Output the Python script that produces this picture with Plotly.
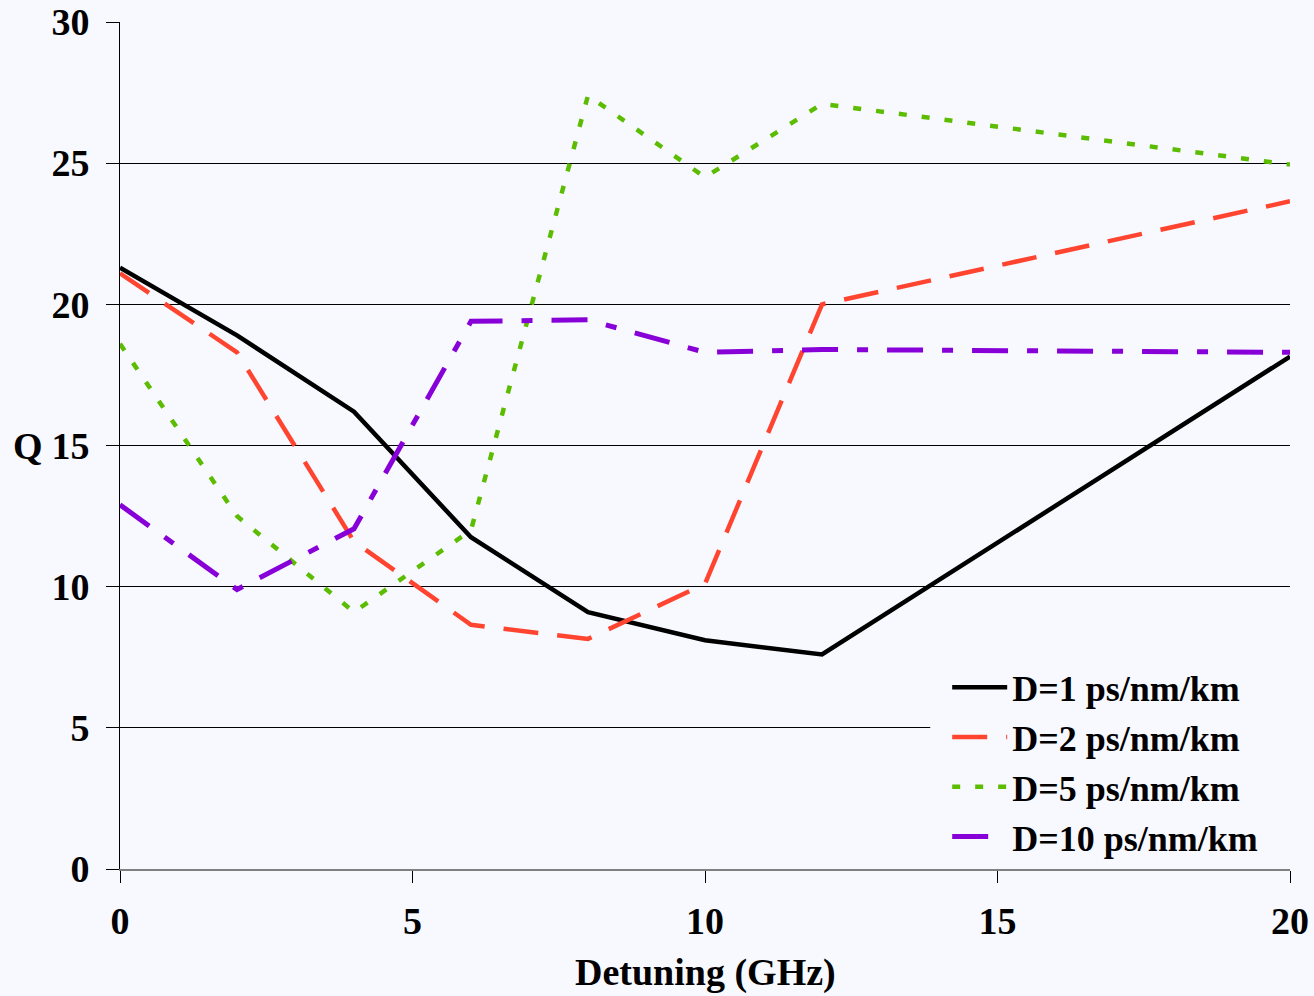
import plotly.graph_objects as go

detuning = [0, 2, 4, 6, 8, 10, 12, 20]
q_d1 = [21.3, 18.9, 16.2, 11.75, 9.1, 8.1, 7.6, 18.15]
q_d2 = [21.1, 18.3, 11.6, 8.65, 8.15, 10.1, 20.0, 23.65]
q_d5 = [18.6, 12.5, 9.1, 12.0, 27.4, 24.5, 27.1, 24.95]
q_d10 = [12.9, 9.9, 12.05, 19.4, 19.45, 18.3, 18.4, 18.3]
names = ["D=1 ps/nm/km", "D=2 ps/nm/km", "D=5 ps/nm/km", "D=10 ps/nm/km"]
x_ticks = [0, 5, 10, 15, 20]
y_ticks = [0, 5, 10, 15, 20, 25, 30]

bg = "#F8F9FF"
font_family = "Liberation Serif, Times New Roman, serif"
fs = 38

fig = go.Figure()
styles = [
    dict(color="#000000", width=4.5, dash="solid"),
    dict(color="#FF4430", width=4.5, dash="35px,19px"),
    dict(color="#5CBC00", width=4.5, dash="8px,15px"),
    dict(color="#8800D8", width=5, dash="36px,19px,11px,19px"),
]
for ys, nm, st in zip([q_d1, q_d2, q_d5, q_d10], names, styles):
    fig.add_trace(go.Scatter(x=detuning, y=ys, mode="lines", name=nm, line=st))

# legend backing panel: hides gridlines behind the legend, drawn under the data
fig.add_shape(type="rect", xref="x", yref="y", x0=13.85, x1=20, y0=0, y1=7.4,
              layer="between", fillcolor=bg, line=dict(width=0))

fig.update_layout(
    width=1314, height=996,
    margin=dict(l=120, r=24, t=22, b=127),
    paper_bgcolor=bg, plot_bgcolor=bg,
    font=dict(family=font_family, size=fs, color="black", weight="bold"),
    showlegend=True,
    legend=dict(x=0.707, y=0.25, xanchor="left", yanchor="top",
                bgcolor="rgba(0,0,0,0)", itemwidth=55, tracegroupgap=0,
                font=dict(family=font_family, size=36, color="black", weight="bold")),
    xaxis=dict(range=[0, 20], tickvals=x_ticks, showgrid=False, zeroline=False,
               showline=True, linecolor="#808080", linewidth=2,
               ticks="outside", ticklen=12, tickcolor="black", tickwidth=1,
               ticklabelstandoff=5, automargin=False),
    yaxis=dict(range=[0, 30], tickvals=y_ticks, showgrid=True, gridcolor="black",
               gridwidth=1, zeroline=False, showline=True, linecolor="black",
               linewidth=1, ticks="outside", ticklen=13, tickcolor="black",
               tickwidth=1, ticklabelstandoff=9, automargin=False),
)
fig.add_annotation(text="Q", xref="paper", yref="y", x=-0.079, y=15,
                   showarrow=False, xanchor="center", yanchor="middle",
                   font=dict(family=font_family, size=fs, color="black", weight="bold"))
fig.add_annotation(text="Detuning (GHz)", xref="paper", yref="paper", x=0.5, y=-0.122,
                   showarrow=False, xanchor="center", yanchor="middle",
                   font=dict(family=font_family, size=fs, color="black", weight="bold"))

fig.write_html("out.html", config={"displayModeBar": False},
               post_script="document.body.style.margin='0';document.body.style.overflow='hidden';")
